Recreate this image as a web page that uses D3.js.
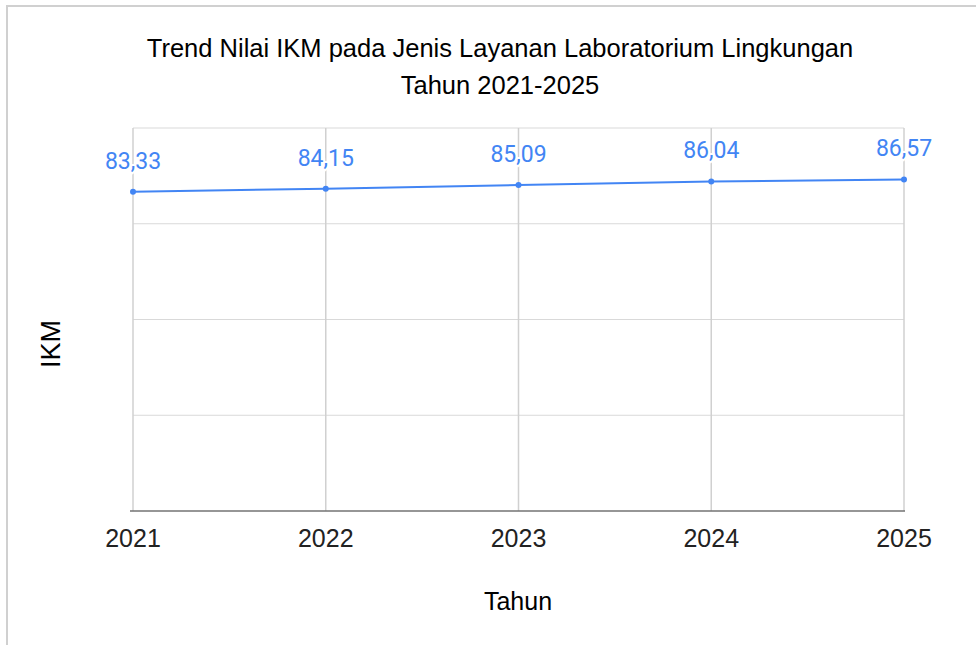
<!DOCTYPE html>
<html>
<head>
<meta charset="utf-8">
<script src="https://cdn.jsdelivr.net/npm/d3@7"></script>
<style>
  body { margin: 0; background: #fff; }
  svg text { font-family: "Liberation Sans", Arial, sans-serif; }
</style>
</head>
<body>
<div id="chart"></div>
<script>
// data
var years = ["2021", "2022", "2023", "2024", "2025"];
var ikmValues = [83.33, 84.15, 85.09, 86.04, 86.57];
var yTicks = [0, 25, 50, 75, 100];
var titleLines = ["Trend Nilai IKM pada Jenis Layanan Laboratorium Lingkungan", "Tahun 2021-2025"];

var width = 976, height = 645;
var plot = { left: 133, right: 904, top: 128, bottom: 511 };
var blue = "#4285f4";

var svg = d3.select("#chart").append("svg")
  .attr("width", width)
  .attr("height", height);

svg.append("rect")
  .attr("width", width).attr("height", height)
  .style("fill", "#fff");

// outer frame (cropped on right/bottom)
svg.append("rect")
  .attr("x", 7).attr("y", 6)
  .attr("width", width + 20).attr("height", height + 20)
  .style("fill", "none")
  .style("stroke", "#d0d0d0")
  .style("stroke-width", 2);

var x = d3.scalePoint()
  .domain(years)
  .range([plot.left, plot.right]);

var y = d3.scaleLinear()
  .domain([0, 100])
  .range([plot.bottom, plot.top]);

// horizontal gridlines
svg.append("g")
  .selectAll("line")
  .data(yTicks.slice(1))
  .enter().append("line")
  .attr("x1", plot.left).attr("x2", plot.right)
  .attr("y1", function(d) { return y(d); })
  .attr("y2", function(d) { return y(d); })
  .style("stroke", "#d9d9d9")
  .style("stroke-width", 1);

// vertical gridlines
svg.append("g")
  .selectAll("line")
  .data(years)
  .enter().append("line")
  .attr("x1", function(d) { return x(d); })
  .attr("x2", function(d) { return x(d); })
  .attr("y1", plot.top).attr("y2", plot.bottom)
  .style("stroke", "#d0d0d0")
  .style("stroke-width", 1.5);

// baseline
svg.append("line")
  .attr("x1", plot.left - 3).attr("x2", plot.right + 1)
  .attr("y1", y(0)).attr("y2", y(0))
  .style("stroke", "#737373")
  .style("stroke-width", 1.5);

// x axis tick labels
svg.append("g")
  .selectAll("text")
  .data(years)
  .enter().append("text")
  .attr("x", function(d) { return x(d); })
  .attr("y", 547)
  .attr("text-anchor", "middle")
  .style("font-size", "25px")
  .style("fill", "#222")
  .text(function(d) { return d; });

// line
var line = d3.line()
  .x(function(d, i) { return x(years[i]); })
  .y(function(d) { return y(d); });

svg.append("path")
  .datum(ikmValues)
  .attr("d", line)
  .style("fill", "none")
  .style("stroke", blue)
  .style("stroke-width", 2);

svg.append("g")
  .selectAll("circle")
  .data(ikmValues)
  .enter().append("circle")
  .attr("cx", function(d, i) { return x(years[i]); })
  .attr("cy", function(d) { return y(d); })
  .attr("r", 3)
  .style("fill", blue);

// data labels
svg.append("g")
  .selectAll("text")
  .data(ikmValues)
  .enter().append("text")
  .attr("x", function(d, i) { return x(years[i]); })
  .attr("y", function(d) { return y(d) - 23; })
  .attr("text-anchor", "middle")
  .style("font-family", "Roboto, sans-serif")
  .style("font-size", "23px")
  .style("fill", blue)
  .style("stroke", "#fff")
  .style("stroke-width", 4)
  .style("paint-order", "stroke")
  .text(function(d) { return d.toFixed(2).replace(".", ","); });

// title
svg.append("g")
  .selectAll("text")
  .data(titleLines)
  .enter().append("text")
  .attr("x", 500)
  .attr("y", function(d, i) { return 57 + i * 37; })
  .attr("text-anchor", "middle")
  .style("font-size", "25.5px")
  .style("fill", "#000")
  .text(function(d) { return d; });

// axis titles
svg.append("text")
  .attr("x", 518).attr("y", 610)
  .attr("text-anchor", "middle")
  .style("font-size", "25px")
  .style("fill", "#000")
  .text("Tahun");

svg.append("text")
  .attr("transform", "translate(60,344) rotate(-90)")
  .attr("text-anchor", "middle")
  .style("font-size", "27px")
  .style("fill", "#000")
  .text("IKM");
</script>
</body>
</html>
